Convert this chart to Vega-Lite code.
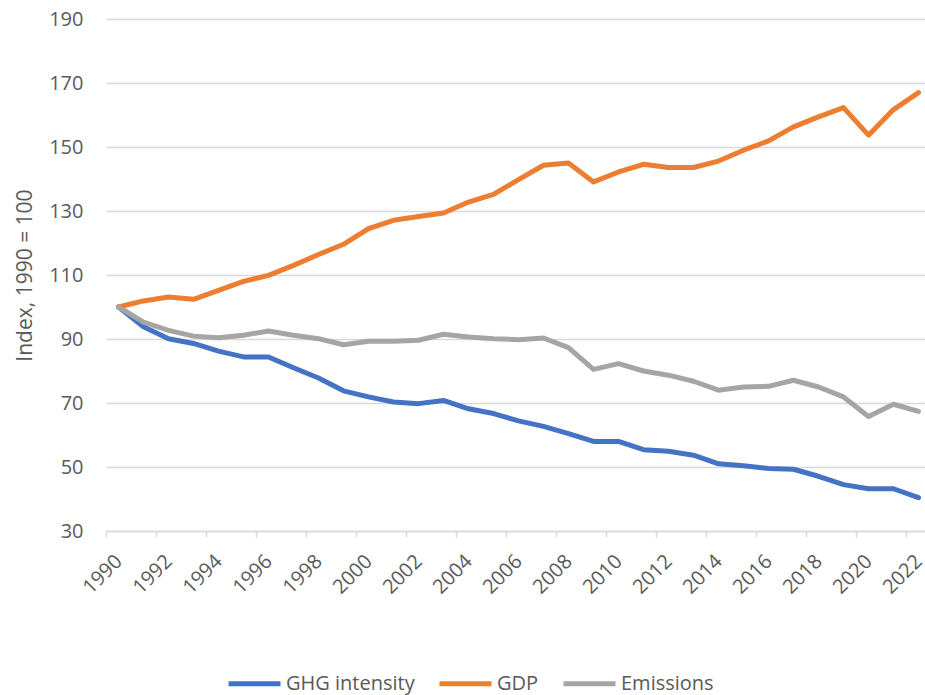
{
  "$schema": "https://vega.github.io/schema/vega-lite/v6.json",
  "autosize": "none",
  "padding": {"left": 106, "top": 19, "right": 0, "bottom": 164},
  "width": 819,
  "height": 512,
  "background": "white",
  "config": {
    "font": "Open Sans",
    "view": {"stroke": null}
  },
  "data": {
    "values": [
      {"year": 1990, "series": "GHG intensity", "value": 100},
      {"year": 1991, "series": "GHG intensity", "value": 93.8},
      {"year": 1992, "series": "GHG intensity", "value": 90.1},
      {"year": 1993, "series": "GHG intensity", "value": 88.6},
      {"year": 1994, "series": "GHG intensity", "value": 86.2},
      {"year": 1995, "series": "GHG intensity", "value": 84.4},
      {"year": 1996, "series": "GHG intensity", "value": 84.4},
      {"year": 1997, "series": "GHG intensity", "value": 81.0},
      {"year": 1998, "series": "GHG intensity", "value": 77.8},
      {"year": 1999, "series": "GHG intensity", "value": 73.8},
      {"year": 2000, "series": "GHG intensity", "value": 71.9},
      {"year": 2001, "series": "GHG intensity", "value": 70.3},
      {"year": 2002, "series": "GHG intensity", "value": 69.8},
      {"year": 2003, "series": "GHG intensity", "value": 70.8},
      {"year": 2004, "series": "GHG intensity", "value": 68.2},
      {"year": 2005, "series": "GHG intensity", "value": 66.7},
      {"year": 2006, "series": "GHG intensity", "value": 64.4},
      {"year": 2007, "series": "GHG intensity", "value": 62.7},
      {"year": 2008, "series": "GHG intensity", "value": 60.4},
      {"year": 2009, "series": "GHG intensity", "value": 58.0},
      {"year": 2010, "series": "GHG intensity", "value": 58.0},
      {"year": 2011, "series": "GHG intensity", "value": 55.4},
      {"year": 2012, "series": "GHG intensity", "value": 54.9},
      {"year": 2013, "series": "GHG intensity", "value": 53.7},
      {"year": 2014, "series": "GHG intensity", "value": 51.0},
      {"year": 2015, "series": "GHG intensity", "value": 50.4},
      {"year": 2016, "series": "GHG intensity", "value": 49.5},
      {"year": 2017, "series": "GHG intensity", "value": 49.3},
      {"year": 2018, "series": "GHG intensity", "value": 47.1},
      {"year": 2019, "series": "GHG intensity", "value": 44.5},
      {"year": 2020, "series": "GHG intensity", "value": 43.2},
      {"year": 2021, "series": "GHG intensity", "value": 43.2},
      {"year": 2022, "series": "GHG intensity", "value": 40.4},
      {"year": 1990, "series": "GDP", "value": 100},
      {"year": 1991, "series": "GDP", "value": 101.9},
      {"year": 1992, "series": "GDP", "value": 103.1},
      {"year": 1993, "series": "GDP", "value": 102.4},
      {"year": 1994, "series": "GDP", "value": 105.2},
      {"year": 1995, "series": "GDP", "value": 108.0},
      {"year": 1996, "series": "GDP", "value": 109.9},
      {"year": 1997, "series": "GDP", "value": 113.0},
      {"year": 1998, "series": "GDP", "value": 116.4},
      {"year": 1999, "series": "GDP", "value": 119.6},
      {"year": 2000, "series": "GDP", "value": 124.5},
      {"year": 2001, "series": "GDP", "value": 127.1},
      {"year": 2002, "series": "GDP", "value": 128.3},
      {"year": 2003, "series": "GDP", "value": 129.4},
      {"year": 2004, "series": "GDP", "value": 132.8},
      {"year": 2005, "series": "GDP", "value": 135.2},
      {"year": 2006, "series": "GDP", "value": 139.8},
      {"year": 2007, "series": "GDP", "value": 144.3},
      {"year": 2008, "series": "GDP", "value": 145.0},
      {"year": 2009, "series": "GDP", "value": 139.1},
      {"year": 2010, "series": "GDP", "value": 142.2},
      {"year": 2011, "series": "GDP", "value": 144.6},
      {"year": 2012, "series": "GDP", "value": 143.6},
      {"year": 2013, "series": "GDP", "value": 143.6},
      {"year": 2014, "series": "GDP", "value": 145.6},
      {"year": 2015, "series": "GDP", "value": 149.0},
      {"year": 2016, "series": "GDP", "value": 151.9},
      {"year": 2017, "series": "GDP", "value": 156.3},
      {"year": 2018, "series": "GDP", "value": 159.4},
      {"year": 2019, "series": "GDP", "value": 162.3},
      {"year": 2020, "series": "GDP", "value": 153.7},
      {"year": 2021, "series": "GDP", "value": 161.7},
      {"year": 2022, "series": "GDP", "value": 167.0},
      {"year": 1990, "series": "Emissions", "value": 100},
      {"year": 1991, "series": "Emissions", "value": 95.3},
      {"year": 1992, "series": "Emissions", "value": 92.7},
      {"year": 1993, "series": "Emissions", "value": 90.9},
      {"year": 1994, "series": "Emissions", "value": 90.4},
      {"year": 1995, "series": "Emissions", "value": 91.2},
      {"year": 1996, "series": "Emissions", "value": 92.5},
      {"year": 1997, "series": "Emissions", "value": 91.2},
      {"year": 1998, "series": "Emissions", "value": 90.1},
      {"year": 1999, "series": "Emissions", "value": 88.2},
      {"year": 2000, "series": "Emissions", "value": 89.3},
      {"year": 2001, "series": "Emissions", "value": 89.3},
      {"year": 2002, "series": "Emissions", "value": 89.6},
      {"year": 2003, "series": "Emissions", "value": 91.5},
      {"year": 2004, "series": "Emissions", "value": 90.6},
      {"year": 2005, "series": "Emissions", "value": 90.1},
      {"year": 2006, "series": "Emissions", "value": 89.8},
      {"year": 2007, "series": "Emissions", "value": 90.3},
      {"year": 2008, "series": "Emissions", "value": 87.3},
      {"year": 2009, "series": "Emissions", "value": 80.5},
      {"year": 2010, "series": "Emissions", "value": 82.3},
      {"year": 2011, "series": "Emissions", "value": 80.0},
      {"year": 2012, "series": "Emissions", "value": 78.7},
      {"year": 2013, "series": "Emissions", "value": 76.8},
      {"year": 2014, "series": "Emissions", "value": 74.0},
      {"year": 2015, "series": "Emissions", "value": 75.0},
      {"year": 2016, "series": "Emissions", "value": 75.2},
      {"year": 2017, "series": "Emissions", "value": 77.1},
      {"year": 2018, "series": "Emissions", "value": 75.0},
      {"year": 2019, "series": "Emissions", "value": 71.9},
      {"year": 2020, "series": "Emissions", "value": 65.8},
      {"year": 2021, "series": "Emissions", "value": 69.6},
      {"year": 2022, "series": "Emissions", "value": 67.4}
    ]
  },
  "mark": {"type": "line", "strokeWidth": 5, "strokeCap": "round", "strokeJoin": "round"},
  "encoding": {
    "x": {
      "field": "year",
      "type": "quantitative",
      "scale": {"domain": [1989.5, 2022.26], "zero": false, "nice": false},
      "axis": {
        "title": null,
        "values": [1989.5, 1991.5, 1993.5, 1995.5, 1997.5, 1999.5, 2001.5, 2003.5, 2005.5, 2007.5, 2009.5, 2011.5, 2013.5, 2015.5, 2017.5, 2019.5, 2021.5],
        "labelExpr": "format(datum.value + 0.5, 'd')",
        "labelOffset": 12.5,
        "labelAngle": -45,
        "labelAlign": "right",
        "labelBaseline": "middle",
        "labelPadding": 21,
        "labelFontSize": 20,
        "labelColor": "#595959",
        "labelFlush": false,
        "labelOverlap": false,
        "labelBound": false,
        "grid": false,
        "domainColor": "#d9d9d9",
        "domainWidth": 1.5,
        "tickColor": "#d9d9d9",
        "tickWidth": 1.5,
        "tickSize": 6
      }
    },
    "y": {
      "field": "value",
      "type": "quantitative",
      "scale": {"domain": [30, 190], "zero": false, "nice": false},
      "axis": {
        "title": "Index, 1990 = 100",
        "titleX": -81,
        "titleY": 256,
        "titleAngle": -90,
        "titleAlign": "center",
        "titleBaseline": "middle",
        "titleFontSize": 21,
        "titleFontWeight": "normal",
        "titleColor": "#595959",
        "values": [30, 50, 70, 90, 110, 130, 150, 170, 190],
        "labelFontSize": 20,
        "labelColor": "#595959",
        "labelPadding": 23,
        "domain": false,
        "ticks": false,
        "gridColor": "#d9d9d9",
        "gridWidth": 1.5
      }
    },
    "color": {
      "field": "series",
      "type": "nominal",
      "scale": {"domain": ["GHG intensity", "GDP", "Emissions"], "range": ["#4472C4", "#ED7D31", "#A5A5A5"]},
      "legend": {
        "title": null,
        "orient": "none",
        "legendX": 120,
        "legendY": 636,
        "direction": "horizontal",
        "symbolType": "stroke",
        "symbolSize": 2704,
        "symbolStrokeWidth": 5,
        "labelFontSize": 20,
        "labelColor": "#595959",
        "labelOffset": 3,
        "columnPadding": 14
      }
    }
  }
}
